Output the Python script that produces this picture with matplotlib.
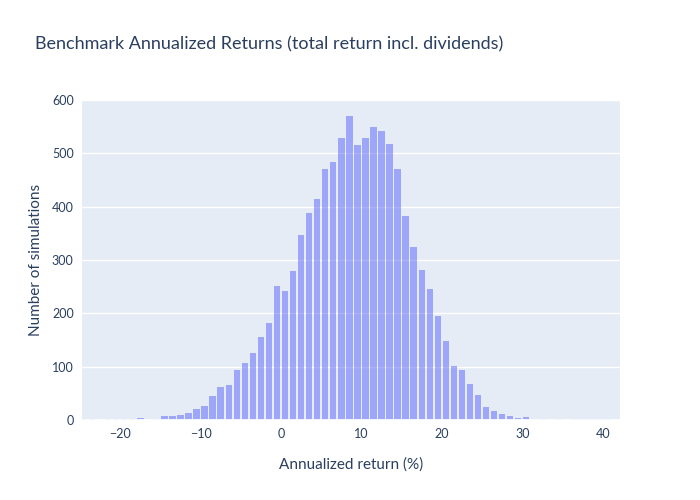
import matplotlib.pyplot as plt
import numpy as np

# histogram bins of 1% (left edges) and counts
bin_left = list(range(-25, 42))
counts = [2, 1, 0, 1, 1, 1, 2, 3, 0, 1,
          7, 7, 9, 13, 21, 26, 45, 62, 66, 93,
          107, 126, 155, 182, 252, 242, 279, 347, 389, 414,
          471, 484, 528, 570, 516, 529, 549, 541, 518, 471,
          382, 325, 282, 246, 195, 149, 101, 93, 68, 46,
          24, 16, 11, 7, 4, 6, 0, 2, 0, 1,
          0, 1, 1, 1, 1, 1, 0]
x_ticks = [-20, -10, 0, 10, 20, 30, 40]
y_ticks = [0, 100, 200, 300, 400, 500, 600]

title = 'Benchmark Annualized Returns (total return incl. dividends)'
x_title = 'Annualized return (%)'
y_title = 'Number of simulations'

txt = '#2a3f5f'
plt.rcParams['font.family'] = ['Lato', 'DejaVu Sans']

fig = plt.figure(figsize=(7, 5), dpi=100)
ax = fig.add_axes([82/700, 80/500, 538/700, 320/500])
ax.set_facecolor('#e5ecf6')

centers = np.array(bin_left) + 0.5
ax.bar(centers, counts, width=0.8, color='#636efa', alpha=0.55, zorder=3)

ax.set_xlim(-24.75, 42.16)
ax.set_ylim(0, 600)
ax.set_xticks(x_ticks)
ax.set_yticks(y_ticks)
ax.grid(True, axis='y', color='white', linewidth=1, zorder=0)
ax.axhline(0, color='white', linewidth=2, zorder=4)
for s in ax.spines.values():
    s.set_visible(False)
ax.tick_params(length=0, labelsize=9, colors=txt, pad=6)

ax.set_xlabel(x_title, fontsize=11, color=txt, labelpad=12)
ax.set_ylabel(y_title, fontsize=11, color=txt, labelpad=6)
fig.text(35/700, 1 - 44/500, title, fontsize=13, color=txt, va='center', ha='left')

fig.savefig('out.png', dpi=100, facecolor='white')
